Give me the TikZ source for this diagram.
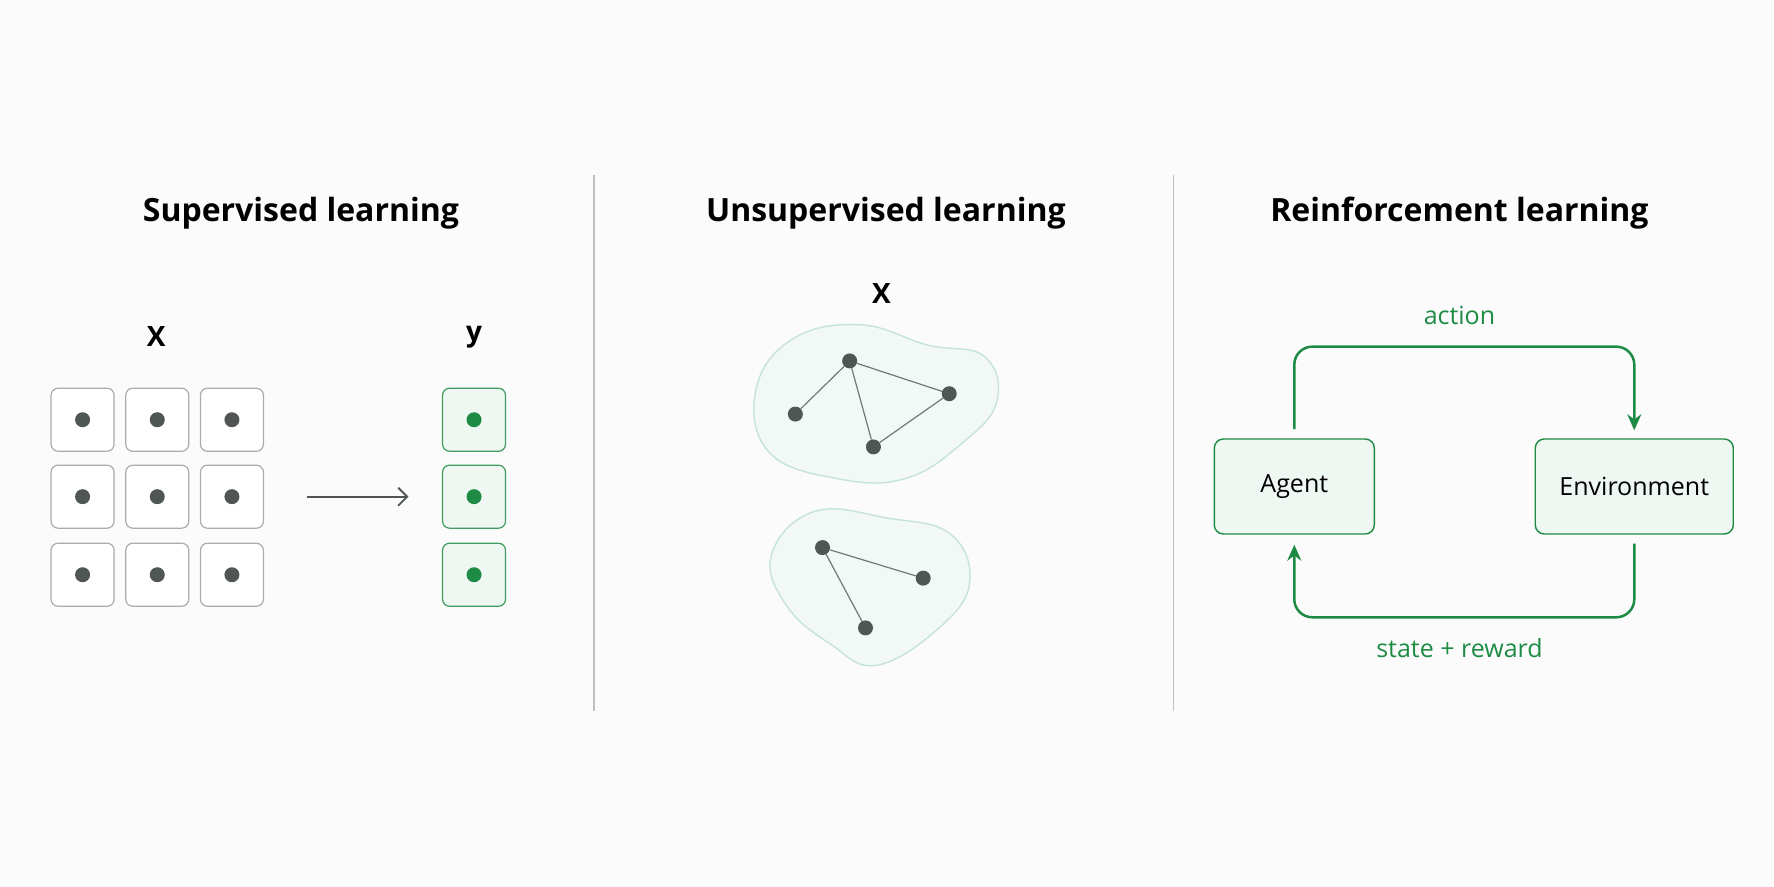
\documentclass[tikz,border=0pt]{standalone}
\usepackage{fontspec}
\setmainfont{Open Sans}
\usetikzlibrary{arrows.meta}
\definecolor{gbord}{HTML}{A9ACAB}
\definecolor{dot}{HTML}{4F5654}
\definecolor{grn}{HTML}{1E8B45}
\definecolor{lgrn}{HTML}{EEF7F1}
\definecolor{blobf}{HTML}{F1F8F5}
\definecolor{blobd}{HTML}{C5E3DA}
\begin{document}
\begin{tikzpicture}[x=1.1314pt,y=-1.1314pt,
  cell/.style={draw=gbord,line width=1.2pt,fill=white,rounded corners=7pt,minimum size=63pt,inner sep=0},
  ycell/.style={cell,draw=grn!85,fill=lgrn},
  pt/.style={circle,fill=dot,minimum size=15pt,inner sep=0},
  ypt/.style={pt,fill=grn},
  title/.style={font=\fontsize{32}{36}\selectfont\bfseries},
  lab/.style={font=\fontsize{28}{30}\selectfont\bfseries},
  box/.style={draw=grn,line width=1.4pt,fill=lgrn,rounded corners=9pt,font=\fontsize{25}{28}\selectfont},
  glab/.style={text=grn,font=\fontsize{25}{28}\selectfont},
  edge/.style={draw=dot!80,line width=1.2pt},
  loop/.style={draw=grn,line width=2.5pt,rounded corners=18pt,-{Stealth[length=16pt,width=14pt]}}]
\fill[white!97!gray] (0,0) rectangle (1568,784);
\useasboundingbox (0,0) rectangle (1568,784);
% dividers
\draw[gray!50,line width=1.2pt] (525,155) -- (525,628);
\draw[gray!50,line width=1.2pt] (1037,155) -- (1037,628);
% titles
\node[title] (t1) at (266,188) {Supervised learning};
\node[title] (t2) at (783,188) {Unsupervised learning};
\node[title] (t3) at (1290,188) {Reinforcement learning};
% supervised
\node[lab] (xl) at (138,297) {X};
\node[lab] (yl) at (419,298) {y};
\foreach \i/\x in {1/73,2/139,3/205}{
  \foreach \j/\y in {1/371,2/439,3/508}{
    \node[cell] (c\i\j) at (\x,\y) {};
    \node[pt] at (c\i\j) {};
  }}
\foreach \j/\y in {1/371,2/439,3/508}{
  \node[ycell] (y\j) at (419,\y) {};
  \node[ypt] at (y\j) {};
}
\coordinate (as) at (271,439);
\coordinate (ae) at (361,439);
\draw[dot,line width=1.8pt,-{Straight Barb[length=9pt,width=18pt]}] (as) -- (ae);
% unsupervised
\node[lab] (ux) at (779,259) {X};
\draw[blobd,fill=blobf,line width=1.4pt] plot[smooth cycle,tension=0.7] coordinates
 {(668,345) (700,300) (760,287) (820,305) (870,315) (881,355) (850,392) (800,423) (740,423) (680,400)};
\draw[blobd,fill=blobf,line width=1.4pt] plot[smooth cycle,tension=0.7] coordinates
 {(682,490) (720,452) (785,458) (840,472) (857,515) (830,555) (775,588) (735,570) (695,535)};
\node[pt] (a1) at (751,319) {};
\node[pt] (a2) at (703,366) {};
\node[pt] (a3) at (839,348) {};
\node[pt] (a4) at (772,395) {};
\node[pt] (b1) at (727,484) {};
\node[pt] (b2) at (816,511) {};
\node[pt] (b3) at (765,555) {};
\draw[edge] (a1) -- (a2);
\draw[edge] (a1) -- (a3);
\draw[edge] (a1) -- (a4);
\draw[edge] (a3) -- (a4);
\draw[edge] (b1) -- (b2);
\draw[edge] (b1) -- (b3);
% reinforcement
\node[box,minimum width=160pt,minimum height=95pt] (ag) at (1144,430) {Agent};
\node[box,minimum width=198pt,minimum height=95pt] (en) at (1444.5,430) {Environment};
\draw[loop] (ag.north) ++(0,-8) -- ++(0,-73) -| ([yshift=8pt]en.north);
\draw[loop] (en.south) ++(0,8) -- ++(0,65) -| ([yshift=-10pt]ag.south);
\node[glab] (act) at (1290,279) {action};
\node[glab] (sr) at (1290,573) {state + reward};
\end{tikzpicture}
\end{document}
